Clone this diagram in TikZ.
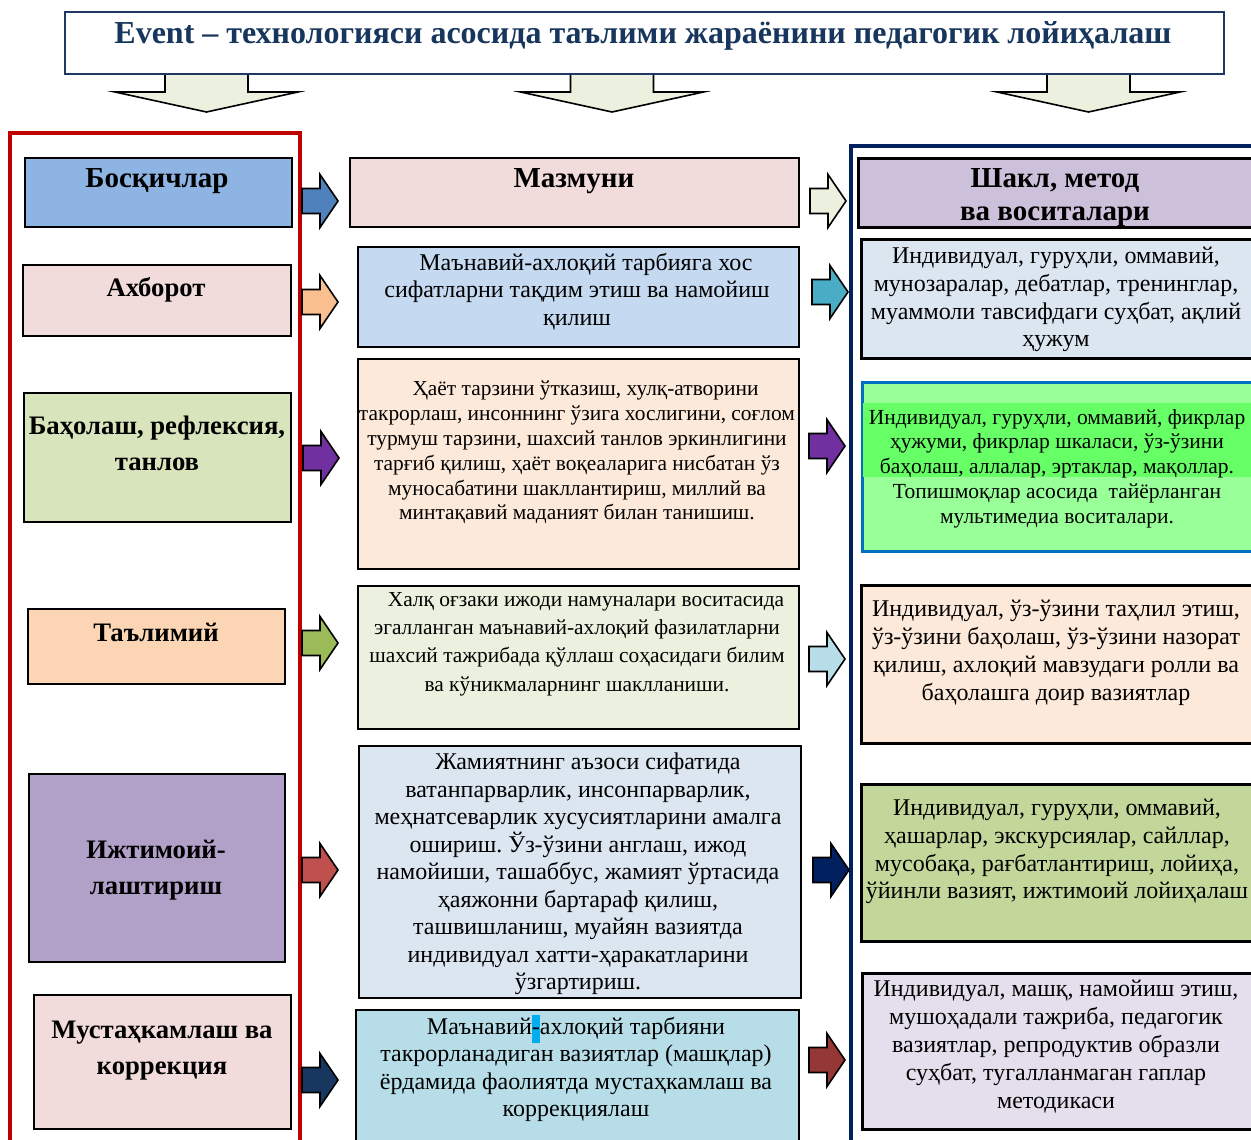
\documentclass[tikz,border=0pt]{standalone}
\usepackage{fontspec}
\setmainfont{Liberation Serif}
\frenchspacing
\definecolor{navyT}{HTML}{17365D}
\definecolor{navyB}{HTML}{1F3864}
\definecolor{frameR}{HTML}{C00000}
\definecolor{frameN}{HTML}{002060}
\definecolor{dArrow}{HTML}{EBF1DE}
\definecolor{cL0}{HTML}{8DB4E2}
\definecolor{cPink}{HTML}{F2DCDB}
\definecolor{cL2}{HTML}{D8E4BC}
\definecolor{cL3}{HTML}{FCD5B4}
\definecolor{cL4}{HTML}{B1A0C7}
\definecolor{cM1}{HTML}{C5D9F1}
\definecolor{cPeach}{HTML}{FDE9D9}
\definecolor{cM3}{HTML}{EBF1DE}
\definecolor{cM4}{HTML}{DCE6F1}
\definecolor{cM5}{HTML}{B7DEE8}
\definecolor{cR0}{HTML}{CCC0DA}
\definecolor{cR2}{HTML}{99FF99}
\definecolor{cR2b}{HTML}{66FF66}
\definecolor{cR2d}{HTML}{0070C0}
\definecolor{cR4}{HTML}{C4D79B}
\definecolor{cR5}{HTML}{E4DFEC}
\definecolor{aBlue}{HTML}{4F81BD}
\definecolor{aOrange}{HTML}{FABF8F}
\definecolor{aPurple}{HTML}{7030A0}
\definecolor{aGreen}{HTML}{9BBB59}
\definecolor{aRed}{HTML}{C0504D}
\definecolor{aNavy}{HTML}{17375E}
\definecolor{aTeal}{HTML}{4BACC6}
\definecolor{aLBlue}{HTML}{B7DEE8}
\definecolor{aDNavy}{HTML}{002060}
\definecolor{aDRed}{HTML}{953735}
\newcommand\fs[2]{\fontsize{#1pt}{#2pt}\selectfont}
\newcommand\hl[1]{{\setlength\fboxsep{0pt}\colorbox{cyan}{\strut#1}}}
\tikzset{
  box/.style={draw=black, line width=2pt, anchor=north west, inner sep=0pt},
  boxR/.style={draw=black, line width=3pt, anchor=north west, inner sep=0pt},
  lbl/.style={font=\bfseries\fs{26.7}{36}, align=center, anchor=north, inner sep=0pt},
  txt/.style={align=center, anchor=north, inner sep=0pt},
  blockarrow/.style={draw=black, line width=1.6pt, line join=miter},
}
% #1 name, #2 x1, #3 y1, #4 x2, #5 y2, #6 fill, #7 style
\newcommand\mkbox[7]{\node[#7, fill=#6, minimum width={(#4-#2)*1pt}, minimum height={(#5-#3)*1pt}] (#1) at (#2,#3) {};}
% right block arrow: #1 x-left, #2 y-centre, #3 fill
\newcommand\rarr[3]{\draw[blockarrow, fill=#3] (#1,#2-12.5) -- (#1+18,#2-12.5) -- (#1+18,#2-26.5) -- (#1+36,#2) -- (#1+18,#2+26.5) -- (#1+18,#2+12.5) -- (#1,#2+12.5) -- cycle;}
% down block arrow: #1 x-centre, #2 y-top
\newcommand\darr[2]{\draw[draw=black, line width=1.6pt, fill=dArrow] (#1-41.5,#2) -- (#1+41.5,#2) -- (#1+41.5,#2+19) -- (#1+91.5,#2+19) -- (#1,#2+39) -- (#1-91.5,#2+19) -- (#1-41.5,#2+19) -- cycle;}
\begin{document}
\begin{tikzpicture}[x=1pt,y=-1pt]
\useasboundingbox (0,0) rectangle (1251,1140);
\fill[white] (0,0) rectangle (1251,1140);

% down arrows
\darr{206.5}{73}
\darr{612}{73}
\darr{1088.5}{73}

% title
\node[draw=navyB, line width=2pt, fill=white, anchor=north west, minimum width=1159pt, minimum height=62pt, inner sep=0pt] (title) at (64,11) {};
\node[txt, font=\bfseries\fs{32}{36}, text=navyT] (titlet) at (643,21) {Event – технологияси асосида таълими жараёнини педагогик лойиҳалаш};

% frames
\draw[frameR, line width=3.5pt] (10,1150) -- (10,133) -- (300,133) -- (300,1150);
\draw[frameN, line width=3.5pt] (851,1150) -- (851,146) -- (1260,146);

% left column
\mkbox{l0}{24}{157}{291}{226}{cL0}{box}
\mkbox{l1}{22}{264}{290}{335}{cPink}{box}
\mkbox{l2}{23}{392}{290}{521}{cL2}{box}
\mkbox{l3}{27}{608}{284}{683}{cL3}{box}
\mkbox{l4}{28}{773}{284}{961}{cL4}{box}
\mkbox{l5}{33}{994}{290}{1128}{cPink}{box}
\node[lbl, font=\bfseries\fs{29}{33}] (l0t) at (157,168) {Босқичлар};
\node[lbl] (l1t) at (156,277) {Ахборот};
\node[lbl] (l2t) at (157,416) {Баҳолаш, рефлексия,\\танлов};
\node[lbl] (l3t) at (156,623) {Таълимий};
\node[lbl] (l4t) at (156,840) {Ижтимоий-\\лаштириш};
\node[lbl] (l5t) at (162,1021) {Мустаҳкамлаш ва\\коррекция};

% middle column
\mkbox{m0}{349}{157}{798}{226}{cPink}{box}
\mkbox{m1}{357}{246}{798}{346}{cM1}{box}
\mkbox{m2}{357}{358}{798}{568}{cPeach}{box}
\mkbox{m3}{357}{585}{798}{728}{cM3}{box}
\mkbox{m4}{358}{745}{800}{997}{cM4}{box}
\mkbox{m5}{355}{1009}{798}{1150}{cM5}{box}
\node[lbl, font=\bfseries\fs{29}{33}] (m0t) at (574,168) {Мазмуни};
\node[txt, font=\fs{24}{27.5}] (m1t) at (577,253) {\hspace*{18pt}Маънавий-ахлоқий тарбияга хос\\сифатларни тақдим этиш ва намойиш\\қилиш};
\node[txt, font=\fs{21.4}{24.8}] (m2t) at (577,381) {\hspace*{17pt}Ҳаёт тарзини ўтказиш, хулқ-атворини\\такрорлаш, инсоннинг ўзига хослигини, соғлом\\турмуш тарзини, шахсий танлов эркинлигини\\тарғиб қилиш, ҳаёт воқеаларига нисбатан ўз\\муносабатини шакллантириш, миллий ва\\минтақавий маданият билан танишиш.};
\node[txt, font=\fs{21.4}{28.3}] (m3t) at (577,592) {\hspace*{18pt}Халқ оғзаки ижоди намуналари воситасида\\эгалланган маънавий-ахлоқий фазилатларни\\шахсий тажрибада қўллаш соҳасидаги билим\\ва кўникмаларнинг шаклланиши.};
\node[txt, font=\fs{24}{27.5}] (m4t) at (578,753) {\hspace*{20pt}Жамиятнинг аъзоси сифатида\\ватанпарварлик, инсонпарварлик,\\меҳнатсеварлик хусусиятларини амалга\\ошириш. Ўз-ўзини англаш, ижод\\намойиши, ташаббус, жамият ўртасида\\ҳаяжонни бартараф қилиш,\\ташвишланиш, муайян вазиятда\\индивидуал хатти-ҳаракатларини\\ўзгартириш.};
\node[txt, font=\fs{24}{27.5}] (m5t) at (576,1015) {Маънавий\hl{-}ахлоқий тарбияни\\такрорланадиган вазиятлар (машқлар)\\ёрдамида фаолиятда мустаҳкамлаш ва\\коррекциялаш};

% right column
\mkbox{r0}{857}{157}{1262}{226}{cR0}{boxR}
\mkbox{r1}{860}{238}{1262}{357}{cM4}{boxR}
\node[draw=cR2d, line width=3pt, fill=cR2, anchor=north west, minimum width=402pt, minimum height=169pt, inner sep=0pt] (r2) at (861,381) {};
\fill[cR2b] (862.5,403) rectangle (1251,477);
\mkbox{r3}{860}{584}{1262}{742}{cPeach}{boxR}
\mkbox{r4}{860}{783}{1262}{940}{cR4}{boxR}
\mkbox{r5}{861}{972}{1262}{1128}{cR5}{boxR}
\node[lbl, font=\bfseries\fs{29}{33}] (r0t) at (1055,168) {Шакл, метод\\ва воситалари};
\node[txt, font=\fs{24}{27.7}] (r1t) at (1056,247) {Индивидуал, гуруҳли, оммавий,\\мунозаралар, дебатлар, тренинглар,\\муаммоли тавсифдаги суҳбат, ақлий\\ҳужум};
\node[txt, font=\fs{21.5}{24.8}] (r2t) at (1057,409) {Индивидуал, гуруҳли, оммавий, фикрлар\\ҳужуми, фикрлар шкаласи, ўз-ўзини\\баҳолаш, аллалар, эртаклар, мақоллар.\\Топишмоқлар асосида\ \ тайёрланган\\мультимедиа воситалари.};
\node[txt, font=\fs{24}{28}] (r3t) at (1056,600) {Индивидуал, ўз-ўзини таҳлил этиш,\\ўз-ўзини баҳолаш, ўз-ўзини назорат\\қилиш, ахлоқий мавзудаги ролли ва\\баҳолашга доир вазиятлар};
\node[txt, font=\fs{24}{27.7}] (r4t) at (1057,799) {Индивидуал, гуруҳли, оммавий,\\ҳашарлар, экскурсиялар, сайллар,\\мусобақа, рағбатлантириш, лойиҳа,\\ўйинли вазият, ижтимоий лойиҳалаш};
\node[txt, font=\fs{24}{28}] (r5t) at (1056,980) {Индивидуал, машқ, намойиш этиш,\\мушоҳадали тажриба, педагогик\\вазиятлар, репродуктив образли\\суҳбат, тугалланмаган гаплар\\методикаси};

% block arrows left -> middle
\rarr{302}{201}{aBlue}
\rarr{302}{302}{aOrange}
\rarr{303}{458}{aPurple}
\rarr{302}{643}{aGreen}
\rarr{302}{870}{aRed}
\rarr{302}{1080}{aNavy}
% block arrows middle -> right
\rarr{810}{201}{dArrow}
\rarr{812}{292}{aTeal}
\rarr{809}{446}{aPurple}
\rarr{809}{659}{aLBlue}
\rarr{813}{870}{aDNavy}
\rarr{809}{1060}{aDRed}
\end{tikzpicture}
\end{document}
